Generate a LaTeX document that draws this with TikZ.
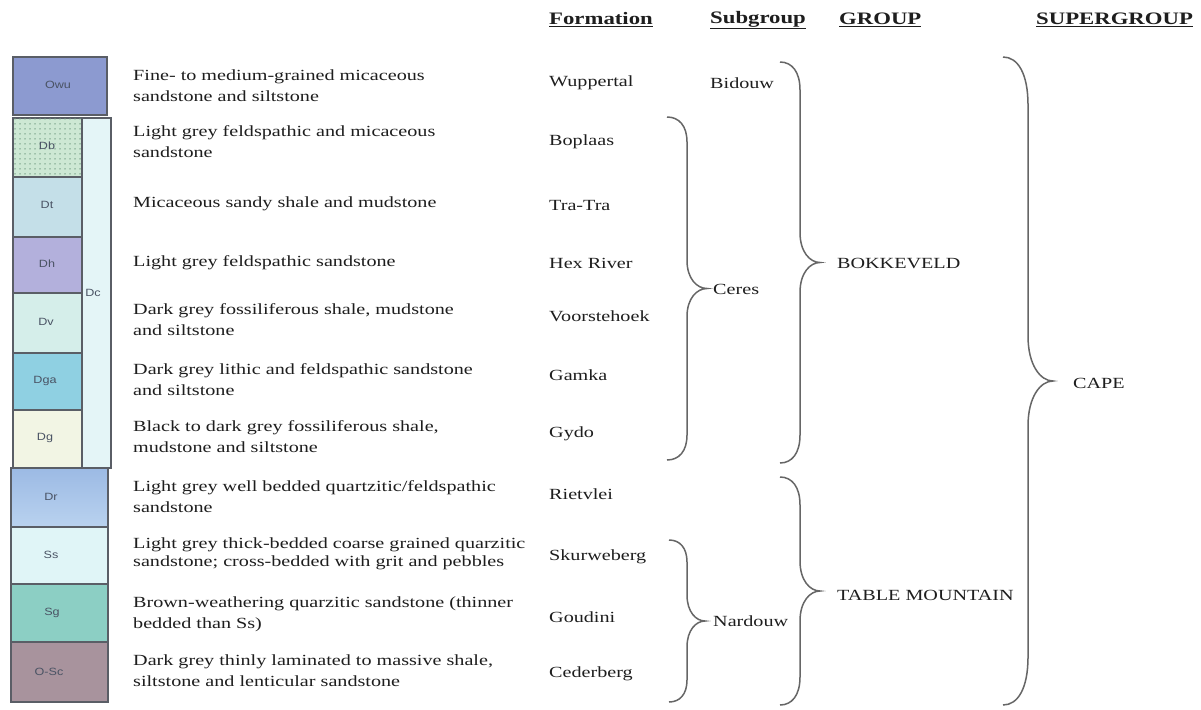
\documentclass[tikz,border=0pt]{standalone}
\usepackage{fontspec}
\setmainfont{Liberation Serif}[FakeStretch=1.3]
\newfontfamily\labfont{Liberation Sans}[FakeStretch=1.2]
\usetikzlibrary{patterns}
\pgfdeclarepatternformonly{geodots}{\pgfqpoint{-1pt}{-1pt}}{\pgfqpoint{1pt}{1pt}}{\pgfqpoint{5pt}{5pt}}{\pgfpathcircle{\pgfqpoint{0pt}{0pt}}{0.75pt}\pgfusepath{fill}}
\definecolor{txt}{HTML}{1E1E1E}
\definecolor{labc}{HTML}{4A5364}
\definecolor{cellb}{HTML}{5A5E66}
\definecolor{brc}{HTML}{666666}
\definecolor{cOwu}{HTML}{8C9AD0}
\definecolor{cDb}{HTML}{CDE8D4}
\definecolor{cDbDot}{HTML}{6E9A80}
\definecolor{cDt}{HTML}{C4DFE8}
\definecolor{cDh}{HTML}{B3B0DC}
\definecolor{cDv}{HTML}{D5EEEA}
\definecolor{cDga}{HTML}{8FD0E2}
\definecolor{cDg}{HTML}{F2F5E4}
\definecolor{cDc}{HTML}{E4F5F7}
\definecolor{cDrA}{HTML}{9CBAE4}
\definecolor{cDrB}{HTML}{B9D2EF}
\definecolor{cSs}{HTML}{E0F5F7}
\definecolor{cSg}{HTML}{8CCFC4}
\definecolor{cOSc}{HTML}{A8939D}
\newcommand\geobrace[6]{%
\draw[br] (#1,#2) .. controls ({#1+0.6*#4},#2) and ({#1+#4},{#2+0.35*#5}) .. ({#1+#4},{#2+#5})
 -- ({#1+#4},{(#2+#3)/2-#6}) .. controls ({#1+#4},{(#2+#3)/2-0.35*#6}) and ({#1+1.5*#4},{(#2+#3)/2}) .. ({#1+2*#4},{(#2+#3)/2})
 .. controls ({#1+1.5*#4},{(#2+#3)/2}) and ({#1+#4},{(#2+#3)/2+0.35*#6}) .. ({#1+#4},{(#2+#3)/2+#6})
 -- ({#1+#4},{#3-#5}) .. controls ({#1+#4},{#3-0.35*#5}) and ({#1+0.6*#4},#3) .. (#1,#3);}
\begin{document}
\begin{tikzpicture}[x=1pt,y=-1pt,
  desc/.style={anchor=west, inner sep=0pt, align=left, text=txt, font=\fontsize{15.5}{21}\selectfont},
  fm/.style={anchor=west, inner sep=0pt, text=txt, font=\fontsize{15.5}{19}\selectfont},
  hdr/.style={anchor=west, inner sep=0pt, text=txt, font=\bfseries\fontsize{17.5}{20}\selectfont},
  lab/.style={inner sep=0pt, text=labc, font=\labfont\fontsize{10.5}{12}\selectfont},
  cell/.style={draw=cellb, line width=1.4pt, inner sep=0pt},
  br/.style={draw=brc, line width=1.5pt}]
\useasboundingbox (0,0) rectangle (1201,709);
\fill[white] (0,0) rectangle (1201,709);
% headers
\node[hdr] (hF) at (549,20) {\underline{Formation}};
\node[hdr] (hS) at (710,20) {\underline{Subgroup}};
\node[hdr] (hG) at (839,20) {\underline{GROUP}};
\node[hdr] (hSG) at (1036,20) {\underline{SUPERGROUP}};
% column cells
\node[cell, fill=cOwu, minimum width=94pt, minimum height=58pt] (owu) at (60,86) {};
\node[cell, fill=cDc, minimum width=29pt, minimum height=350pt] (dc) at (96.5,293) {};
\node[cell, fill=cDb, minimum width=69pt, minimum height=59pt] (db) at (47.5,147.5) {};
\fill[pattern=geodots, pattern color=cDbDot] (db.south west) rectangle (db.north east);
\draw[draw=cellb, line width=1.4pt] (db.south west) rectangle (db.north east);
\node[cell, fill=cDt, minimum width=69pt, minimum height=60pt] (dt) at (47.5,207) {};
\node[cell, fill=cDh, minimum width=69pt, minimum height=56pt] (dh) at (47.5,265) {};
\node[cell, fill=cDv, minimum width=69pt, minimum height=60pt] (dv) at (47.5,323) {};
\node[cell, fill=cDga, minimum width=69pt, minimum height=57pt] (dga) at (47.5,381.5) {};
\node[cell, fill=cDg, minimum width=69pt, minimum height=58pt] (dg) at (47.5,439) {};
\node[cell, top color=cDrA, bottom color=cDrB, minimum width=97pt, minimum height=59pt] (dr) at (59.5,497.5) {};
\node[cell, fill=cSs, minimum width=97pt, minimum height=57pt] (ss) at (59.5,555.5) {};
\node[cell, fill=cSg, minimum width=97pt, minimum height=58pt] (sg) at (59.5,613) {};
\node[cell, fill=cOSc, minimum width=97pt, minimum height=60pt] (osc) at (59.5,672) {};
% cell labels
\node[lab] (lowu) at (58,85) {Owu};
\node[lab] (ldb) at (47,146) {Db};
\node[lab] (ldt) at (47,205) {Dt};
\node[lab] (ldh) at (47,264) {Dh};
\node[lab] (ldv) at (46,322) {Dv};
\node[lab] (ldga) at (45,381) {Dga};
\node[lab] (ldg) at (45,438) {Dg};
\node[lab] (ldc) at (93,293) {Dc};
\node[lab] (ldr) at (51,497) {Dr};
\node[lab] (lss) at (51,555) {Ss};
\node[lab] (lsg) at (52,613) {Sg};
\node[lab] (losc) at (49,672) {O-Sc};
% descriptions
\node[desc] (t1) at (133,85.5) {Fine- to medium-grained micaceous\\sandstone and siltstone};
\node[desc] (t2) at (133,141.5) {Light grey feldspathic and micaceous\\sandstone};
\node[desc] (t3) at (133,204) {Micaceous sandy shale and mudstone};
\node[desc] (t4) at (133,263) {Light grey feldspathic sandstone};
\node[desc] (t5) at (133,319.5) {Dark grey fossiliferous shale, mudstone\\and siltstone};
\node[desc] (t6) at (133,379.5) {Dark grey lithic and feldspathic sandstone\\and siltstone};
\node[desc] (t7) at (133,437) {Black to dark grey fossiliferous shale,\\mudstone and siltstone};
\node[desc] (t8) at (133,497) {Light grey well bedded quartzitic/feldspathic\\sandstone};
\node[desc, font=\fontsize{15.5}{18}\selectfont] (t9) at (133,554) {Light grey thick-bedded coarse grained quarzitic\\sandstone; cross-bedded with grit and pebbles};
\node[desc] (t10) at (133,614) {Brown-weathering quarzitic sandstone (thinner\\bedded than Ss)};
\node[desc] (t11) at (133,671) {Dark grey thinly laminated to massive shale,\\siltstone and lenticular sandstone};
% formations
\node[fm] (f1) at (549,83) {Wuppertal};
\node[fm] (f2) at (549,142) {Boplaas};
\node[fm] (f3) at (549,205) {Tra-Tra};
\node[fm] (f4) at (549,263) {Hex River};
\node[fm] (f5) at (549,316) {Voorstehoek};
\node[fm] (f6) at (549,375) {Gamka};
\node[fm] (f7) at (549,434) {Gydo};
\node[fm] (f8) at (549,494) {Rietvlei};
\node[fm] (f9) at (549,557) {Skurweberg};
\node[fm] (f10) at (549,617) {Goudini};
\node[fm] (f11) at (549,674) {Cederberg};
% subgroups, groups, supergroup
\node[fm] (sBid) at (710,83) {Bidouw};
\node[fm] (sCer) at (713,289) {Ceres};
\node[fm] (sNar) at (713,621) {Nardouw};
\node[fm] (gBok) at (837,263) {BOKKEVELD};
\node[fm] (gTM) at (837,595) {TABLE MOUNTAIN};
\node[fm] (sgC) at (1073,383) {CAPE};
% braces
\geobrace{667}{117}{460}{20}{25}{28}
\geobrace{669}{540}{702}{18}{22}{26}
\geobrace{780}{62}{463}{20}{28}{30}
\geobrace{780}{477}{705}{20}{28}{30}
\geobrace{1003}{57}{705}{25}{48}{45}
\end{tikzpicture}
\end{document}
